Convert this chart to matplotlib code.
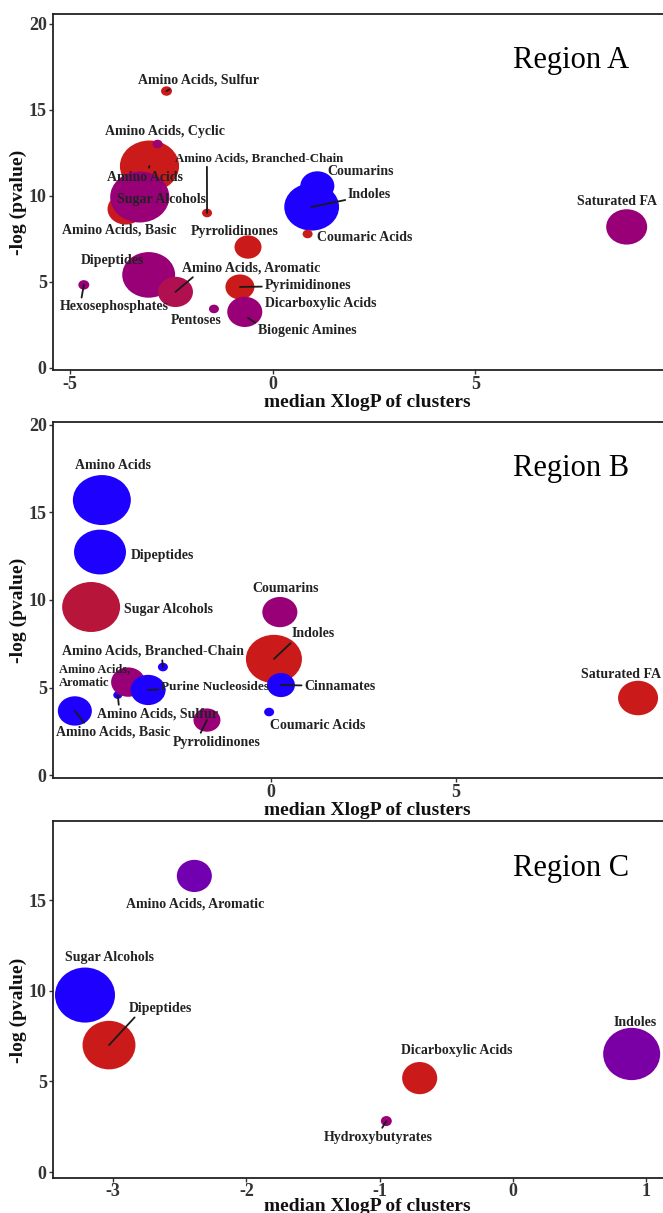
import numpy as np
import matplotlib
matplotlib.use('Agg')
import matplotlib.pyplot as plt
from matplotlib.colors import LinearSegmentedColormap
from matplotlib.path import Path

plt.rcParams['font.family'] = ['Liberation Serif', 'DejaVu Serif']
plt.rcParams['font.weight'] = 'bold'
plt.rcParams['axes.labelweight'] = 'bold'
plt.rcParams['axes.unicode_minus'] = False

# ── Region A ─────────────────────────────────────────────────────────────────
a_names = ['Amino Acids', 'Amino Acids, Basic', 'Sugar Alcohols', 'Amino Acids, Cyclic',
           'Amino Acids, Sulfur', 'Amino Acids, Branched-Chain', 'Pyrrolidinones',
           'Coumarins', 'Indoles', 'Coumaric Acids', 'Saturated FA', 'Dipeptides',
           'Amino Acids, Aromatic', 'Hexosephosphates', 'Pyrimidinones', 'Pentoses',
           'Dicarboxylic Acids', 'Biogenic Amines']
a_xlogp = [-3.04, -3.63, -3.28, -2.84, -2.62, -1.62, -0.61, 1.10, 0.96, 0.86, 8.73,
           -3.06, -2.40, -4.66, -0.81, -1.45, -0.69, -0.61]
a_logp = [11.74, 9.24, 9.94, 13.02, 16.10, 9.01, 7.03, 10.58, 9.36, 7.79, 8.20,
          5.41, 4.42, 4.83, 4.71, 3.43, 3.26, 2.91]
a_size = [35, 13, 35, 1, 1.2, 1, 7.3, 11.6, 30, 1, 16.8, 28, 12.3, 1.2, 8.4, 1, 12.3, 1]
a_tone = [1, 0.97, 0.6, 0.62, 1, 1, 1, 0, 0, 1, 0.6, 0.6, 0.75, 0.6, 1, 0.6, 0.6, 0.6]

# ── Region B ─────────────────────────────────────────────────────────────────
b_names = ['Amino Acids', 'Dipeptides', 'Sugar Alcohols', 'Coumarins', 'Indoles',
           'Cinnamates', 'Coumaric Acids', 'Saturated FA', 'Amino Acids, Branched-Chain',
           'Amino Acids, Sulfur', 'Amino Acids, Aromatic', 'Purine Nucleosides',
           'Amino Acids, Basic', 'Pyrrolidinones']
b_xlogp = [-4.57, -4.62, -4.86, 0.24, 0.08, 0.27, -0.05, 9.92, -2.92, -4.14, -3.86,
           -3.32, -5.30, -1.73]
b_logp = [15.71, 12.74, 9.60, 9.31, 6.63, 5.14, 3.60, 4.40, 6.17, 4.57, 5.31, 4.86,
          3.66, 3.14]
b_size = [33.6, 27, 33.6, 12.3, 31.4, 7.8, 1, 16, 1, 0.8, 11.6, 12.3, 11.6, 7.3]
b_tone = [0, 0, 0.85, 0.6, 1, 0, 0, 1, 0, 0, 0.6, 0, 0, 0.6]

# ── Region C ─────────────────────────────────────────────────────────────────
c_names = ['Amino Acids, Aromatic', 'Sugar Alcohols', 'Dipeptides', 'Dicarboxylic Acids',
           'Indoles', 'Hydroxybutyrates']
c_xlogp = [-2.39, -3.21, -3.03, -0.70, 0.89, -0.95]
c_logp = [16.33, 9.76, 7.00, 5.18, 6.51, 2.81]
c_size = [12.3, 36, 28, 12.3, 32.5, 1.2]
c_tone = [0.35, 0, 1, 1, 0.4, 0.6]

# label placement (pixel offsets from the point; y up) and leader segments
a_offsets = {
    'Amino Acids': (-4, -11), 'Amino Acids, Basic': (-6, -21), 'Sugar Alcohols': (22, -3),
    'Amino Acids, Cyclic': (7, 13), 'Amino Acids, Sulfur': (32, 11),
    'Amino Acids, Branched-Chain': (52, 55), 'Pyrrolidinones': (-13, 16),
    'Coumarins': (43, 14), 'Indoles': (58, 12), 'Coumaric Acids': (57, -4),
    'Saturated FA': (-10, 25), 'Dipeptides': (-36, 14), 'Amino Acids, Aromatic': (76, 24),
    'Hexosephosphates': (30, -22), 'Pyrimidinones': (68, 1), 'Pentoses': (-18, -12),
    'Dicarboxylic Acids': (76, 8), 'Biogenic Amines': (59, -13),
}
a_segs = {'Amino Acids': (0.5, 0.5), 'Amino Acids, Sulfur': (0.3, 0),
          'Amino Acids, Branched-Chain': (0.19, 0), 'Indoles': (0.5, 0.5),
          'Amino Acids, Aromatic': (0.1, 0), 'Hexosephosphates': (0.2, 1),
          'Pyrimidinones': (0.5, 0.5), 'Biogenic Amines': (0, 1)}
a_fs = {'Amino Acids, Branched-Chain': 9.3}

b_offsets = {
    'Amino Acids': (11, 35), 'Dipeptides': (62, -3), 'Sugar Alcohols': (77, -2),
    'Coumarins': (6, 24), 'Indoles': (39, 25), 'Cinnamates': (59, -1),
    'Coumaric Acids': (49, -13), 'Saturated FA': (-17, 24),
    'Amino Acids, Branched-Chain': (-10, 16), 'Amino Acids, Aromatic': (-34, 6),
    'Purine Nucleosides': (67, 3), 'Amino Acids, Sulfur': (40, -19),
    'Amino Acids, Basic': (38, -21), 'Pyrrolidinones': (10, -22),
}
b_segs = {'Indoles': (0.05, 0), 'Cinnamates': (0.5, 0.5),
          'Amino Acids, Branched-Chain': (0.55, 0), 'Purine Nucleosides': (0.5, 0.5),
          'Amino Acids, Sulfur': (0.18, 1), 'Amino Acids, Basic': (0.27, 1),
          'Pyrrolidinones': (0.3, 1)}
b_text = {'Amino Acids, Aromatic': 'Amino Acids,\nAromatic'}
b_fs = {'Amino Acids, Aromatic': 9, 'Purine Nucleosides': 9.5}

c_offsets = {
    'Amino Acids, Aromatic': (1, -28), 'Sugar Alcohols': (25, 38), 'Dipeptides': (51, 37),
    'Dicarboxylic Acids': (37, 28), 'Indoles': (4, 31), 'Hydroxybutyrates': (-8, -16),
}
c_segs = {'Dipeptides': (0.14, 0), 'Hydroxybutyrates': (0.52, 1)}

tone_cmap = LinearSegmentedColormap.from_list('tone', [
    (0.0, '#1E00FF'), (0.35, '#7200B0'), (0.6, '#990077'),
    (0.75, '#B01050'), (0.85, '#B8153A'), (1.0, '#CB1A1A')])

W, H = 663, 1213
fig = plt.figure(figsize=(W / 100, H / 100), dpi=100)
fig.patch.set_facecolor('white')


def ellipse_marker(aspect):
    circ = Path.unit_circle()
    return Path(circ.vertices * np.array([aspect, 1.0]), circ.codes)


def panel(top, bottom, xlim, ylim, xticks, yticks, title, names, xs, ys, sizes, tones,
          offsets, segs, aspect, texts=None, fsizes=None, xlab_y=-0.068, xpad=1.5):
    texts = texts or {}
    fsizes = fsizes or {}
    ax = fig.add_axes([53 / W, 1 - bottom / H, (681 - 53) / W, (bottom - top) / H])
    ax.set_xlim(*xlim)
    ax.set_ylim(*ylim)
    ax.set_xticks(xticks)
    ax.set_yticks(yticks)
    for s in ax.spines.values():
        s.set_linewidth(1.3)
        s.set_color('#222222')
    ax.tick_params(direction='out', length=3, width=1, color='#333333',
                   labelsize=13, labelcolor='#333333', pad=1.5)
    ax.tick_params(axis='x', pad=xpad)
    ax.set_xlabel('median XlogP of clusters', fontsize=14, color='#111111')
    ax.set_ylabel('-log (pvalue)', fontsize=14, color='#111111')
    ax.xaxis.set_label_coords(0.5, xlab_y)
    ax.yaxis.set_label_coords(-0.042, 0.47)

    widths_pt = 7.2 * np.sqrt(np.asarray(sizes, dtype=float))
    ax.scatter(xs, ys, s=widths_pt ** 2, c=tone_cmap(np.asarray(tones)),
               marker=ellipse_marker(aspect), linewidths=0, zorder=3)

    for name, x, y in zip(names, xs, ys):
        dx, dy = offsets[name]
        kw = dict(xy=(x, y), xytext=(dx, dy), textcoords='offset pixels',
                  ha='center', va='center', fontsize=fsizes.get(name, 10),
                  color='#222222', zorder=5, linespacing=1.15,
                  multialignment='left')
        if name in segs:
            kw['arrowprops'] = dict(arrowstyle='-', color='#1a1a1a', lw=1.3,
                                    shrinkA=0, shrinkB=0, relpos=segs[name])
        ax.annotate(texts.get(name, name), **kw)

    ax.text(0.825, 0.868, title, transform=ax.transAxes, ha='center', va='center',
            fontsize=22, fontweight='normal', color='black')
    return ax


panel(14, 370, (-5.42, 10.07), (-0.12, 20.58), [-5, 0, 5], [0, 5, 10, 15, 20],
      'Region A', a_names, a_xlogp, a_logp, a_size, a_tone, a_offsets, a_segs, 1.16,
      fsizes=a_fs)
panel(422, 778, (-5.89, 11.08), (-0.17, 20.17), [0, 5], [0, 5, 10, 15, 20],
      'Region B', b_names, b_xlogp, b_logp, b_size, b_tone, b_offsets, b_segs, 1.16,
      texts=b_text, fsizes=b_fs)
panel(821, 1178, (-3.45, 1.26), (-0.33, 19.36), [-3, -2, -1, 0, 1], [0, 5, 10, 15],
      'Region C', c_names, c_xlogp, c_logp, c_size, c_tone, c_offsets, c_segs, 1.09,
      xlab_y=-0.055, xpad=0.3)

fig.savefig('out.png', dpi=100, facecolor='white')
